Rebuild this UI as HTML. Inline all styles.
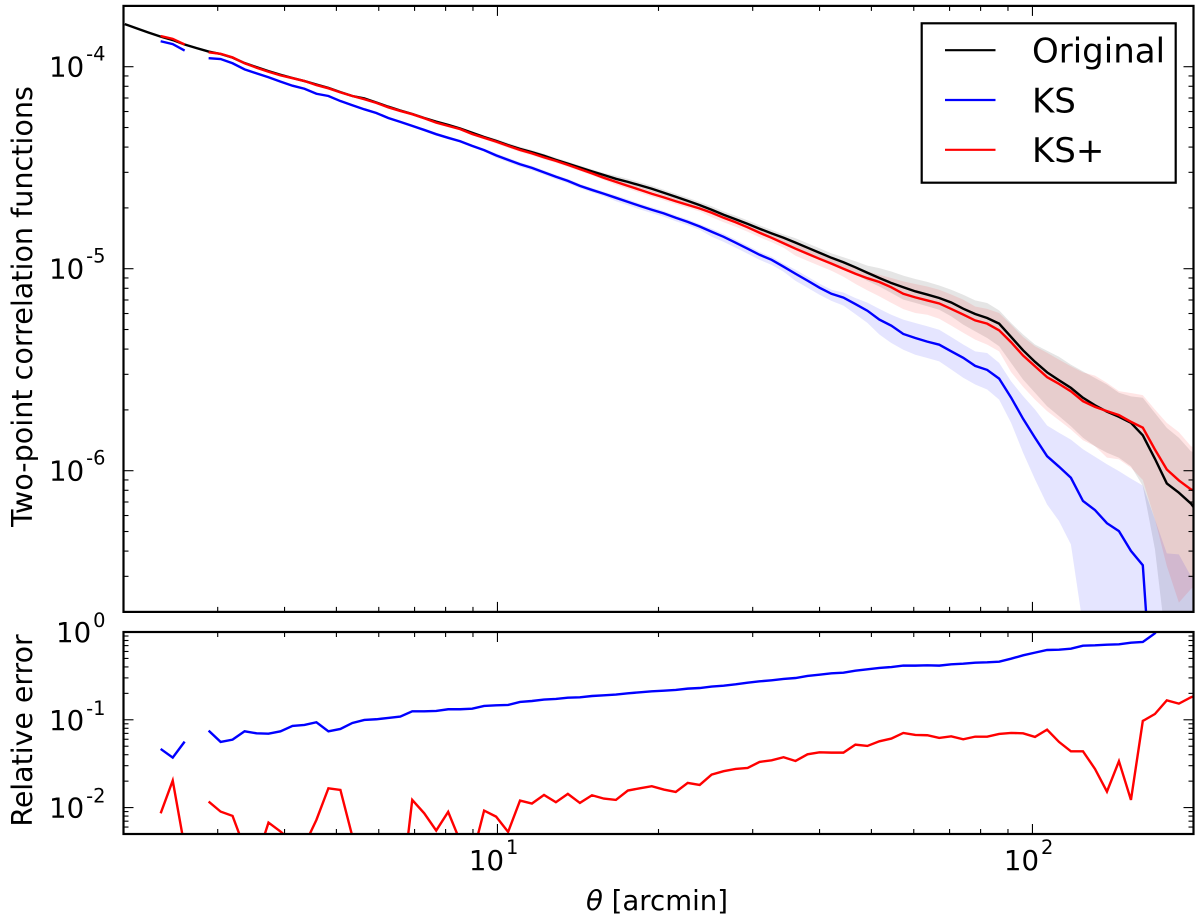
<!DOCTYPE html>
<html lang="en">
<head>
<meta charset="utf-8">
<title>Two-point correlation functions</title>
<style>
html,body{margin:0;padding:0;background:#fff;overflow:hidden;}
svg{display:block;font-family:"DejaVu Sans","Liberation Sans",sans-serif;}
</style>
</head>
<body>
<svg id="figure" xmlns="http://www.w3.org/2000/svg" width="1200" height="921" viewBox="0 0 1200 921">
  <rect x="0" y="0" width="1200" height="921" fill="#fff"/>
  <defs>
    <clipPath id="clip-top"><rect x="123.5" y="5.9" width="1070" height="606"/></clipPath>
    <clipPath id="clip-bottom"><rect x="123.5" y="632" width="1070" height="202"/></clipPath>
  </defs>
  <g id="top-data" clip-path="url(#clip-top)"></g>
  <g id="bottom-data" clip-path="url(#clip-bottom)"></g>
  <g id="ticks"></g>
  <rect x="123.5" y="5.9" width="1070" height="606" fill="none" stroke="#000" stroke-width="2.2"/>
  <rect x="123.5" y="632" width="1070" height="202" fill="none" stroke="#000" stroke-width="2.2"/>
  <g id="tick-labels" fill="#000"></g>
  <text transform="translate(32,306.5) rotate(-90)" text-anchor="middle" font-size="28.6">Two-point correlation functions</text>
  <text transform="translate(32,730.5) rotate(-90)" text-anchor="middle" font-size="28.4">Relative error</text>
  <text x="657" y="910" text-anchor="middle" font-size="27.6"><tspan font-style="italic">θ</tspan> [arcmin]</text>
  <g>
    <rect x="921.7" y="23.3" width="254" height="159.4" fill="#fff" stroke="#000" stroke-width="2.2"/>
    <line x1="945" x2="995.5" y1="50.2" y2="50.2" stroke="#000" stroke-width="2.2"/>
    <text x="1032" y="62.7" font-size="34">Original</text>
    <line x1="945" x2="995.5" y1="100" y2="100" stroke="#00f" stroke-width="2.2"/>
    <text x="1032" y="112.3" font-size="34">KS</text>
    <line x1="945" x2="995.5" y1="149.8" y2="149.8" stroke="#f00" stroke-width="2.2"/>
    <text x="1032" y="162" font-size="34">KS+</text>
  </g>
</svg>
<script>
// Angular separation of each bin, arcmin
const thetaArcmin = [2.011,2.117,2.229,2.347,2.472,2.602,2.740,2.885,3.038,3.198,3.368,3.546,3.733,3.931,4.139,4.358,4.588,4.831,5.087,5.356,5.639,5.937,6.251,6.582,6.930,7.297,7.683,8.089,8.517,8.968,9.442,9.942,10.47,11.02,11.60,12.22,12.86,13.54,14.26,15.02,15.81,16.65,17.53,18.45,19.43,20.46,21.54,22.68,23.88,25.14,26.47,27.87,29.35,30.90,32.54,34.26,36.07,37.98,39.99,42.10,44.33,46.67,49.14,51.74,54.48,57.36,60.40,63.59,66.95,70.50,74.23,78.15,82.29,86.64,91.22,96.05,101.1,106.5,112.1,118.0,124.3,130.9,137.8,145.1,152.8,160.8,169.4,178.3,187.8,197.7,208.2];

// log10 of the two-point correlation function
const logXiOriginal = [-3.789,-3.810,-3.831,-3.851,-3.868,-3.890,-3.908,-3.925,-3.937,-3.955,-3.982,-4.002,-4.022,-4.040,-4.056,-4.071,-4.088,-4.105,-4.126,-4.145,-4.157,-4.177,-4.198,-4.217,-4.234,-4.254,-4.272,-4.288,-4.306,-4.327,-4.348,-4.367,-4.388,-4.407,-4.423,-4.441,-4.461,-4.480,-4.499,-4.518,-4.536,-4.555,-4.570,-4.587,-4.604,-4.624,-4.644,-4.664,-4.685,-4.708,-4.733,-4.755,-4.778,-4.802,-4.825,-4.847,-4.871,-4.896,-4.921,-4.946,-4.968,-4.993,-5.020,-5.046,-5.071,-5.092,-5.112,-5.128,-5.145,-5.167,-5.198,-5.224,-5.244,-5.272,-5.338,-5.404,-5.461,-5.513,-5.552,-5.590,-5.639,-5.676,-5.708,-5.733,-5.763,-5.825,-5.941,-6.063,-6.109,-6.162,-6.241];
const logXiKS = [null,null,null,-3.874,-3.888,-3.920,null,-3.958,-3.962,-3.983,-4.013,-4.033,-4.052,-4.074,-4.094,-4.109,-4.134,-4.145,-4.170,-4.191,-4.211,-4.229,-4.254,-4.273,-4.293,-4.313,-4.334,-4.352,-4.369,-4.392,-4.413,-4.439,-4.461,-4.483,-4.501,-4.523,-4.545,-4.565,-4.590,-4.610,-4.629,-4.649,-4.669,-4.689,-4.708,-4.726,-4.748,-4.768,-4.791,-4.817,-4.842,-4.871,-4.901,-4.931,-4.956,-4.990,-5.025,-5.059,-5.094,-5.124,-5.143,-5.175,-5.208,-5.252,-5.282,-5.323,-5.343,-5.361,-5.376,-5.409,-5.441,-5.481,-5.501,-5.544,-5.638,-5.743,-5.837,-5.928,-5.980,-6.035,-6.150,-6.195,-6.260,-6.299,-6.397,-6.468,-7.338,-8,-8,-8,-8];
const logXiKSPlus = [null,null,null,-3.848,-3.862,-3.890,null,-3.929,-3.936,-3.954,-3.983,-4.005,-4.025,-4.043,-4.057,-4.071,-4.091,-4.107,-4.127,-4.145,-4.161,-4.179,-4.201,-4.219,-4.235,-4.255,-4.277,-4.293,-4.309,-4.333,-4.352,-4.371,-4.392,-4.412,-4.429,-4.449,-4.466,-4.486,-4.507,-4.528,-4.550,-4.570,-4.590,-4.609,-4.629,-4.647,-4.666,-4.684,-4.702,-4.723,-4.748,-4.770,-4.795,-4.822,-4.847,-4.874,-4.901,-4.926,-4.951,-4.975,-5.000,-5.025,-5.047,-5.066,-5.092,-5.124,-5.142,-5.157,-5.172,-5.199,-5.227,-5.256,-5.272,-5.305,-5.364,-5.430,-5.483,-5.537,-5.570,-5.607,-5.656,-5.684,-5.705,-5.725,-5.758,-5.787,-5.895,-5.994,-6.048,-6.092,-6.117];

// Band half-widths above and below each curve, in decades
const bandUpOriginal = [.005,.005,.005,.005,.005,.005,.005,.005,.005,.005,.005,.005,.005,.005,.005,.005,.005,.005,.005,.005,.005,.007,.007,.007,.007,.007,.007,.007,.007,.007,.007,.010,.010,.010,.010,.010,.010,.010,.010,.010,.010,.015,.015,.015,.015,.015,.015,.015,.015,.017,.017,.017,.017,.017,.017,.017,.022,.022,.022,.022,.025,.030,.035,.049,.057,.058,.061,.063,.062,.063,.069,.067,.074,.066,.069,.078,.086,.107,.116,.115,.131,.135,.135,.119,.131,.186,.227,.275,.272,.259,.313];
const bandDownOriginal = [.005,.005,.005,.005,.005,.005,.005,.005,.005,.005,.005,.005,.005,.005,.005,.005,.005,.005,.005,.005,.005,.007,.007,.007,.007,.007,.007,.007,.007,.007,.007,.010,.010,.010,.010,.010,.010,.010,.010,.010,.010,.015,.015,.015,.015,.015,.015,.015,.015,.020,.020,.020,.020,.020,.020,.020,.027,.027,.027,.027,.030,.035,.040,.042,.049,.061,.057,.058,.058,.069,.079,.086,.099,.112,.129,.145,.153,.168,.178,.190,.198,.203,.203,.203,.215,.251,.448,.821,.939,.969,.890];
const bandUpKS = [0,0,0,.005,.005,.005,0,.005,.005,.005,.005,.005,.005,.005,.005,.005,.005,.005,.005,.005,.005,.007,.007,.007,.007,.007,.007,.007,.007,.007,.007,.010,.010,.010,.010,.010,.010,.010,.010,.010,.010,.012,.012,.012,.012,.012,.012,.012,.012,.015,.015,.015,.015,.015,.015,.015,.020,.020,.020,.020,.025,.030,.040,.053,.054,.071,.074,.076,.074,.071,.066,.072,.084,.078,.081,.112,.140,.152,.168,.189,.256,.264,.292,.297,.358,.395,1.097,1.591,1.586,1.479,1.430];
const bandDownKS = [0,0,0,.005,.005,.005,0,.005,.005,.005,.005,.005,.005,.005,.005,.005,.005,.005,.005,.005,.005,.007,.007,.007,.007,.007,.007,.007,.007,.007,.007,.012,.012,.012,.012,.012,.012,.012,.012,.012,.012,.017,.017,.017,.017,.017,.017,.017,.017,.025,.025,.025,.025,.025,.025,.025,.035,.035,.035,.035,.040,.050,.060,.074,.086,.078,.083,.081,.083,.090,.099,.092,.097,.104,.125,.168,.206,.239,.269,.330,.618,1.0,1.0,1.0,1.0,1.0,.5,.1,.1,.1,.1];
const bandUpKSPlus = [0,0,0,.005,.005,.005,0,.005,.005,.005,.005,.005,.005,.005,.005,.005,.005,.005,.005,.005,.005,.007,.007,.007,.007,.007,.007,.007,.007,.007,.007,.010,.010,.010,.010,.010,.010,.010,.010,.010,.010,.015,.015,.015,.015,.015,.015,.015,.015,.020,.020,.020,.020,.020,.020,.020,.025,.025,.025,.025,.030,.032,.034,.036,.046,.061,.066,.069,.068,.071,.074,.069,.073,.086,.087,.092,.099,.121,.120,.124,.143,.155,.140,.119,.143,.161,.198,.231,.239,.214,.206];
const bandDownKSPlus = [0,0,0,.005,.005,.005,0,.005,.005,.005,.005,.005,.005,.005,.005,.005,.005,.005,.005,.005,.005,.007,.007,.007,.007,.007,.007,.007,.007,.007,.007,.010,.010,.010,.010,.010,.010,.010,.010,.010,.010,.015,.015,.015,.015,.015,.015,.015,.015,.022,.022,.022,.022,.022,.022,.022,.035,.035,.035,.035,.040,.050,.060,.071,.077,.076,.077,.071,.076,.083,.090,.095,.104,.104,.148,.155,.165,.168,.180,.189,.193,.195,.230,.219,.227,.259,.346,.478,.605,.494,.420];

// log10 of the relative error with respect to the original
const logErrKS = [null,null,null,-1.332,-1.431,-1.249,null,-1.123,-1.252,-1.226,-1.131,-1.154,-1.158,-1.131,-1.070,-1.059,-1.028,-1.131,-1.104,-1.036,-1.002,-0.994,-0.979,-0.964,-0.903,-0.903,-0.899,-0.880,-0.880,-0.873,-0.842,-0.835,-0.831,-0.797,-0.786,-0.770,-0.763,-0.748,-0.744,-0.729,-0.721,-0.713,-0.698,-0.687,-0.676,-0.668,-0.660,-0.645,-0.638,-0.622,-0.611,-0.596,-0.577,-0.562,-0.550,-0.535,-0.524,-0.501,-0.486,-0.471,-0.463,-0.440,-0.425,-0.410,-0.399,-0.383,-0.383,-0.380,-0.383,-0.368,-0.361,-0.349,-0.345,-0.338,-0.304,-0.266,-0.235,-0.205,-0.201,-0.190,-0.156,-0.152,-0.144,-0.140,-0.122,-0.114,-0.015,0.17,0.3,0.35,0.4];
const logErrKSPlus = [null,null,null,-2.065,-1.693,-2.452,null,-1.932,-2.046,-2.095,-2.463,-2.592,-2.171,-2.273,-2.391,-2.429,-2.140,-1.780,-1.799,-2.330,-2.596,-2.748,-2.899,-3.074,-1.913,-2.065,-2.262,-2.049,-2.383,-2.565,-2.034,-2.103,-2.277,-1.920,-1.954,-1.856,-1.939,-1.844,-1.947,-1.860,-1.898,-1.913,-1.806,-1.780,-1.757,-1.795,-1.822,-1.719,-1.742,-1.624,-1.586,-1.560,-1.548,-1.480,-1.461,-1.427,-1.469,-1.393,-1.370,-1.374,-1.374,-1.283,-1.298,-1.245,-1.214,-1.150,-1.173,-1.176,-1.207,-1.188,-1.222,-1.192,-1.192,-1.161,-1.150,-1.154,-1.195,-1.112,-1.252,-1.359,-1.359,-1.560,-1.818,-1.472,-1.913,-1.013,-0.934,-0.778,-0.816,-0.744,-0.698];

// Tick values
const xMajorTicks = [10,100];
const xMinorTicks = [3,4,5,6,7,8,9,20,30,40,50,60,70,80,90];
const xTickExponents = ["1","2"];
const topMajorTicks = [1e-4,1e-5,1e-6];
const topMinorTicks = [2e-4,9e-5,8e-5,7e-5,6e-5,5e-5,4e-5,3e-5,2e-5,9e-6,8e-6,7e-6,6e-6,5e-6,4e-6,3e-6,2e-6,9e-7,8e-7,7e-7,6e-7,5e-7,4e-7,3e-7];
const topTickExponents = ["-4","-5","-6"];
const bottomMajorTicks = [1,0.1,0.01];
const bottomMinorTicks = [.9,.8,.7,.6,.5,.4,.3,.2,.09,.08,.07,.06,.05,.04,.03,.02,.009,.008,.007,.006];
const bottomTickExponents = ["0","-1","-2"];

const NS = 'http://www.w3.org/2000/svg';
const PLOT_LEFT = 123.5, PLOT_RIGHT = 1193.5;
const TOP_TOP = 5.9, TOP_BOTTOM = 611.9;
const BOT_TOP = 632, BOT_BOTTOM = 834;

function xAxis(theta){
  return PLOT_LEFT + (Math.log10(theta) - Math.log10(2)) / 2 * (PLOT_RIGHT - PLOT_LEFT);
}
function yTopAxis(logValue){
  return TOP_TOP + (Math.log10(2e-4) - logValue) / 3 * (TOP_BOTTOM - TOP_TOP);
}
function yBottomAxis(logValue){
  return BOT_TOP + (0 - logValue) / (0 - Math.log10(5e-3)) * (BOT_BOTTOM - BOT_TOP);
}
function segmentsOf(values){
  const segs = [];
  let cur = null;
  values.forEach(function(v, i){
    if (v === null) { cur = null; return; }
    if (!cur) { cur = []; segs.push(cur); }
    cur.push(i);
  });
  return segs;
}
function linePath(values, yFn){
  return segmentsOf(values).map(function(seg){
    return 'M' + seg.map(function(i){
      return xAxis(thetaArcmin[i]).toFixed(2) + ' ' + yFn(values[i]).toFixed(2);
    }).join('L');
  }).join('');
}
function bandPath(values, up, down, yFn){
  return segmentsOf(values).map(function(seg){
    const upper = seg.map(function(i){
      return xAxis(thetaArcmin[i]).toFixed(2) + ' ' + yFn(values[i] + up[i]).toFixed(2);
    });
    const lower = seg.slice().reverse().map(function(i){
      return xAxis(thetaArcmin[i]).toFixed(2) + ' ' + yFn(values[i] - down[i]).toFixed(2);
    });
    return 'M' + upper.concat(lower).join('L') + 'Z';
  }).join('');
}
function makePath(parent, d, stroke, fill, width, opacity){
  const el = document.createElementNS(NS, 'path');
  el.setAttribute('d', d);
  el.setAttribute('stroke', stroke);
  el.setAttribute('fill', fill);
  el.setAttribute('stroke-width', width);
  el.setAttribute('stroke-linejoin', 'miter');
  el.setAttribute('fill-opacity', opacity);
  parent.appendChild(el);
  return el;
}

const topData = document.getElementById('top-data');
const bottomData = document.getElementById('bottom-data');

const bandOriginal = makePath(topData, bandPath(logXiOriginal, bandUpOriginal, bandDownOriginal, yTopAxis), 'none', '#000', 0, 0.1);


const bandKS = makePath(topData, bandPath(logXiKS, bandUpKS, bandDownKS, yTopAxis), 'none', '#00f', 0, 0.1);


const bandKSPlus = makePath(topData, bandPath(logXiKSPlus, bandUpKSPlus, bandDownKSPlus, yTopAxis), 'none', '#f00', 0, 0.1);



const lineOriginal = makePath(topData, linePath(logXiOriginal, yTopAxis), '#000', 'none', 2.4, 1);


const lineKS = makePath(topData, linePath(logXiKS, yTopAxis), '#00f', 'none', 2.4, 1);


const lineKSPlus = makePath(topData, linePath(logXiKSPlus, yTopAxis), '#f00', 'none', 2.4, 1);



const lineErrKS = makePath(bottomData, linePath(logErrKS, yBottomAxis), '#00f', 'none', 2.4, 1);


const lineErrKSPlus = makePath(bottomData, linePath(logErrKSPlus, yBottomAxis), '#f00', 'none', 2.4, 1);



const tickGroup = document.getElementById('ticks');
function addTick(x1, y1, x2, y2, name){
  const el = document.createElementNS(NS, 'line');
  el.setAttribute('x1', x1);
  el.setAttribute('y1', y1);
  el.setAttribute('x2', x2);
  el.setAttribute('y2', y2);
  el.setAttribute('stroke', '#000');
  el.setAttribute('stroke-width', '1.1');
  
  
  tickGroup.appendChild(el);
}
const MAJOR = 10, MINOR = 5;
function addXTicks(values, len, name){
  values.forEach(function(v){
    const x = xAxis(v);
    addTick(x, TOP_TOP, x, TOP_TOP + len, name);
    addTick(x, TOP_BOTTOM, x, TOP_BOTTOM - len, name);
    addTick(x, BOT_TOP, x, BOT_TOP + len, name);
    addTick(x, BOT_BOTTOM, x, BOT_BOTTOM - len, name);
  });
}
function addYTicks(values, len, yFn, name){
  values.forEach(function(v){
    const y = yFn(Math.log10(v));
    addTick(PLOT_LEFT, y, PLOT_LEFT + len, y, name);
    addTick(PLOT_RIGHT, y, PLOT_RIGHT - len, y, name);
  });
}
addXTicks(xMajorTicks, MAJOR, 'x-major-tick');
addXTicks(xMinorTicks, MINOR, 'x-minor-tick');
addYTicks(topMajorTicks, MAJOR, yTopAxis, 'top-y-major-tick');
addYTicks(topMinorTicks, MINOR, yTopAxis, 'top-y-minor-tick');
addYTicks(bottomMajorTicks, MAJOR, yBottomAxis, 'bottom-y-major-tick');
addYTicks(bottomMinorTicks, MINOR, yBottomAxis, 'bottom-y-minor-tick');

const labelGroup = document.getElementById('tick-labels');
function addPowerLabel(x, baseline, anchor, exponent, rise, name){
  const t = document.createElementNS(NS, 'text');
  t.setAttribute('x', x);
  t.setAttribute('y', baseline);
  t.setAttribute('text-anchor', anchor);
  t.setAttribute('font-size', '27.6');
  
  
  t.appendChild(document.createTextNode('10'));
  const sup = document.createElementNS(NS, 'tspan');
  sup.setAttribute('font-size', '19.4');
  sup.setAttribute('dy', -rise);
  sup.setAttribute('dx', '2');
  sup.textContent = exponent;
  t.appendChild(sup);
  labelGroup.appendChild(t);
}
xMajorTicks.forEach(function(v, i){
  addPowerLabel(xAxis(v) - 3.8, 870, 'middle', xTickExponents[i], 16, 'x-tick-label');
});
topMajorTicks.forEach(function(v, i){
  addPowerLabel(105.5, yTopAxis(Math.log10(v)) + 10, 'end', topTickExponents[i], 16, 'top-y-tick-label');
});
bottomMajorTicks.forEach(function(v, i){
  addPowerLabel(105.5, yBottomAxis(Math.log10(v)) + 10, 'end', bottomTickExponents[i], 15, 'bottom-y-tick-label');
});
</script>
</body>
</html>
